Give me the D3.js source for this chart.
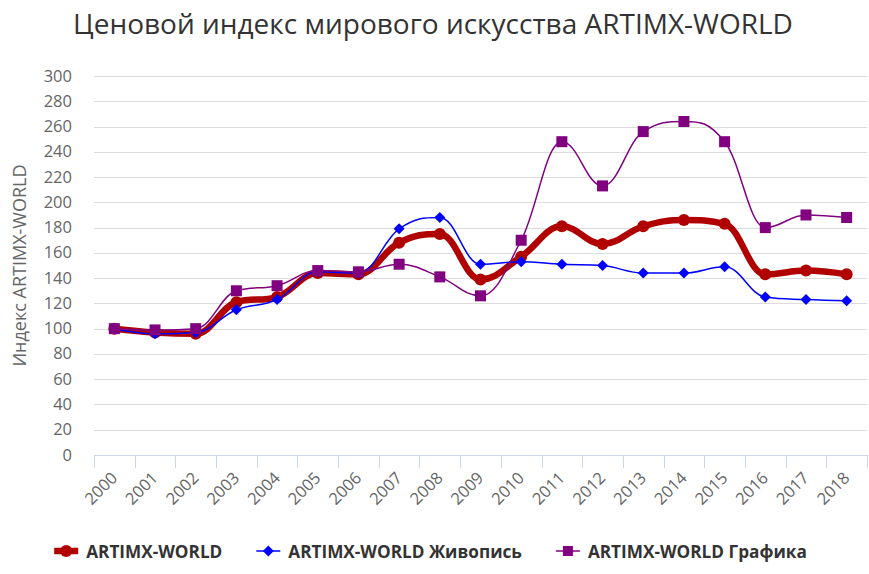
<!DOCTYPE html>
<html>
<head>
<meta charset="utf-8">
<script src="https://cdn.jsdelivr.net/npm/d3@7"></script>
<style>
    body { margin: 0; background: #fff; }
    text { font-family: "Open Sans", sans-serif; }
    .chart-title { font-size: 28px; fill: #333; }
    .axis-label { font-size: 18px; fill: #666; }
    .tick-label { font-size: 16.5px; fill: #666; }
    .legend-label { font-size: 17.2px; font-weight: bold; fill: #333; }
</style>
</head>
<body>
<div id="chart"></div>
<script>
// Categories (years) and the three index series
const years = ["2000", "2001", "2002", "2003", "2004", "2005", "2006", "2007", "2008", "2009",
    "2010", "2011", "2012", "2013", "2014", "2015", "2016", "2017", "2018"];
const artimxWorld = [100, 97, 96, 121, 125, 144, 143, 168, 175, 139, 157, 181, 167, 181, 186, 183, 143, 146, 143];
const painting = [100, 96, 97, 115, 123, 145, 144, 179, 188, 151, 153, 151, 150, 144, 144, 149, 125, 123, 122];
const graphics = [100, 99, 100, 130, 134, 146, 145, 151, 141, 126, 170, 248, 213, 256, 264, 248, 180, 190, 188];
const yTicks = [0, 20, 40, 60, 80, 100, 120, 140, 160, 180, 200, 220, 240, 260, 280, 300];

const seriesNames = ["ARTIMX-WORLD", "ARTIMX-WORLD Живопись", "ARTIMX-WORLD Графика"];

// Series styles
const series = [
    {name: seriesNames[0], values: artimxWorld, color: "#b00000", width: 6.5, marker: "circle", size: 6},
    {name: seriesNames[1], values: painting, color: "#0000ff", width: 1.5, marker: "diamond", size: 5.5},
    {name: seriesNames[2], values: graphics, color: "#800080", width: 1.5, marker: "square", size: 5.5}
];

// Spline like the one Highcharts draws (smoothing 1.5, no false extremes)
function SplineCurve(context) {
    this._context = context;
}
SplineCurve.prototype = {
    areaStart() {},
    areaEnd() {},
    lineStart() { this._pts = []; },
    point(x, y) { this._pts.push([+x, +y]); },
    lineEnd() {
        const p = this._pts, n = p.length, s = 1.5, den = s + 1;
        let lc = [], rc = [];
        for (let i = 0; i < n; i++) {
            if (i === 0 || i === n - 1) { lc[i] = p[i]; rc[i] = p[i]; continue; }
            const [x, y] = p[i], [lx, ly] = p[i - 1], [nx, ny] = p[i + 1];
            let lcx = (s * x + lx) / den, lcy = (s * y + ly) / den;
            let rcx = (s * x + nx) / den, rcy = (s * y + ny) / den;
            const corr = ((rcy - lcy) * (rcx - x)) / (rcx - lcx) + y - rcy;
            lcy += corr;
            rcy += corr;
            if (lcy > ly && lcy > y) { lcy = Math.max(ly, y); rcy = 2 * y - lcy; }
            else if (lcy < ly && lcy < y) { lcy = Math.min(ly, y); rcy = 2 * y - lcy; }
            if (rcy > ny && rcy > y) { rcy = Math.max(ny, y); lcy = 2 * y - rcy; }
            else if (rcy < ny && rcy < y) { rcy = Math.min(ny, y); lcy = 2 * y - rcy; }
            lc[i] = [lcx, lcy];
            rc[i] = [rcx, rcy];
        }
        this._context.moveTo(p[0][0], p[0][1]);
        for (let i = 1; i < n; i++) {
            this._context.bezierCurveTo(rc[i - 1][0], rc[i - 1][1], lc[i][0], lc[i][1], p[i][0], p[i][1]);
        }
    }
};
const splineCurve = context => new SplineCurve(context);

// SVG size
const width = 869, height = 574;
const plot = {left: 94, right: 867, top: 76, bottom: 455};

let svg = d3.select("#chart")
    .append("svg")
    .attr("width", width)
    .attr("height", height);

// Scales
let xScale = d3.scaleBand()
    .domain(years)
    .range([plot.left, plot.right]);

let yScale = d3.scaleLinear()
    .domain([0, 300])
    .range([plot.bottom, plot.top]);

const cx = d => xScale(d) + xScale.bandwidth() / 2;

// Title
svg.append("text")
    .attr("class", "chart-title")
    .attr("x", 433)
    .attr("y", 34)
    .attr("text-anchor", "middle")
    .text("Ценовой индекс мирового искусства ARTIMX-WORLD");

// Grid lines
svg.append("g")
    .selectAll("line")
    .data(yTicks.filter(d => d > 0))
    .enter()
    .append("line")
    .attr("x1", plot.left)
    .attr("x2", plot.right)
    .attr("y1", d => Math.round(yScale(d)) + 0.5)
    .attr("y2", d => Math.round(yScale(d)) + 0.5)
    .attr("stroke", "#dcdcdc")
    .attr("stroke-width", 1);

// Y tick labels
svg.append("g")
    .selectAll("text")
    .data(yTicks)
    .enter()
    .append("text")
    .attr("class", "tick-label")
    .attr("x", 72)
    .attr("y", d => yScale(d) + 5.5)
    .attr("text-anchor", "end")
    .text(d => d);

// Y axis title
svg.append("text")
    .attr("class", "axis-label")
    .attr("transform", `translate(26, ${(plot.top + plot.bottom) / 2}) rotate(-90)`)
    .attr("text-anchor", "middle")
    .text("Индекс ARTIMX-WORLD");

// X axis line and ticks at category boundaries
let xGroup = svg.append("g");
xGroup.append("line")
    .attr("x1", plot.left)
    .attr("x2", plot.right)
    .attr("y1", plot.bottom + 0.5)
    .attr("y2", plot.bottom + 0.5)
    .attr("stroke", "#ccd6eb");

xGroup.selectAll(".x-tick")
    .data(years.concat(["end"]))
    .enter()
    .append("line")
    .attr("class", "x-tick")
    .attr("x1", (d, i) => Math.round(plot.left + i * xScale.bandwidth()) + 0.5)
    .attr("x2", (d, i) => Math.round(plot.left + i * xScale.bandwidth()) + 0.5)
    .attr("y1", plot.bottom)
    .attr("y2", plot.bottom + 13)
    .attr("stroke", "#ccd6eb");

xGroup.selectAll(".x-label")
    .data(years)
    .enter()
    .append("text")
    .attr("class", "tick-label")
    .attr("transform", d => `translate(${cx(d) + 4}, 479) rotate(-45)`)
    .attr("text-anchor", "end")
    .text(d => d);

// Marker shapes
function markerPath(type, x, y, r) {
    const p = d3.path();
    if (type === "circle") {
        p.moveTo(x + r, y);
        p.arc(x, y, r, 0, 2 * Math.PI);
    } else if (type === "diamond") {
        p.moveTo(x, y - r);
        p.lineTo(x + r, y);
        p.lineTo(x, y + r);
        p.lineTo(x - r, y);
        p.closePath();
    } else {
        p.rect(x - r, y - r, 2 * r, 2 * r);
    }
    return p.toString();
}

// Lines
let line = d3.line()
    .x((d, i) => cx(years[i]))
    .y(d => yScale(d))
    .curve(splineCurve);

series.forEach(s => {
    let g = svg.append("g");
    g.append("path")
        .datum(s.values)
        .attr("fill", "none")
        .attr("stroke", s.color)
        .attr("stroke-width", s.width)
        .attr("stroke-linejoin", "round")
        .attr("stroke-linecap", "round")
        .attr("d", line);

    g.selectAll(".marker")
        .data(s.values)
        .enter()
        .append("path")
        .attr("class", "marker")
        .attr("fill", s.color)
        .attr("d", (d, i) => markerPath(s.marker, cx(years[i]), yScale(d), s.size));
});

// Legend
let legend = svg.append("g");
let items = legend.selectAll("g")
    .data(series)
    .enter()
    .append("g");

items.append("line")
    .attr("x1", 0)
    .attr("x2", 24)
    .attr("y1", 0)
    .attr("y2", 0)
    .attr("stroke", d => d.color)
    .attr("stroke-width", d => d.width);

items.append("path")
    .attr("fill", d => d.color)
    .attr("d", d => markerPath(d.marker, 12, 0, d.marker === "square" ? 5 : d.size));

items.append("text")
    .attr("class", "legend-label")
    .attr("x", 32)
    .attr("y", 6.5)
    .text(d => d.name);

// Lay the legend items out in a row, centered
let xPos = 0;
items.each(function () {
    let w = 32 + this.querySelector("text").getComputedTextLength();
    d3.select(this).attr("data-x", xPos);
    xPos += w + 34;
});
let total = xPos - 34;
let start = 430.5 - total / 2;
items.attr("transform", function () {
    return `translate(${start + +this.getAttribute("data-x")}, 551)`;
});
</script>
</body>
</html>
